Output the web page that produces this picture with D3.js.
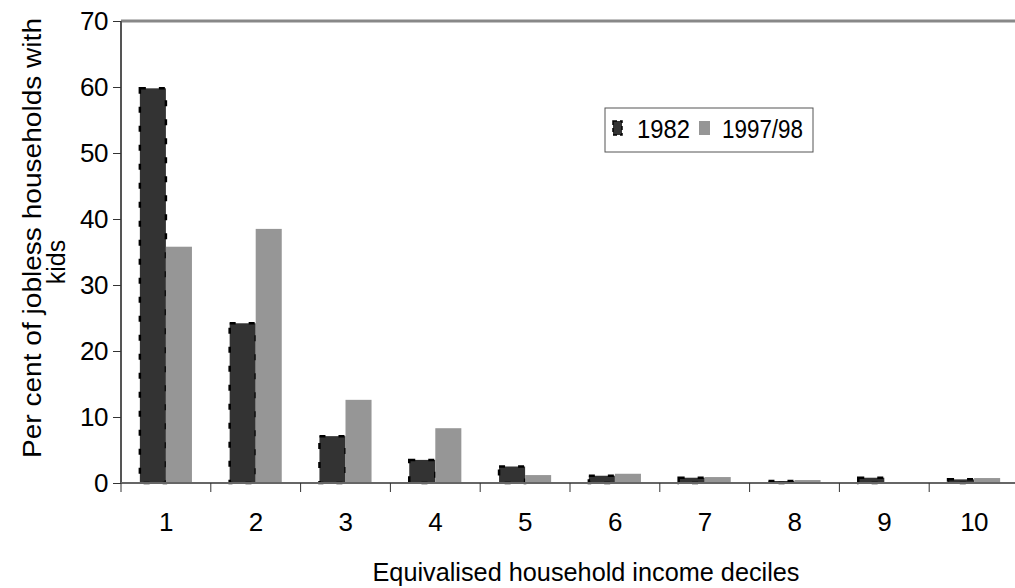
<!DOCTYPE html>
<html>
<head>
<meta charset="utf-8">
<script src="https://cdn.jsdelivr.net/npm/d3@7"></script>
<style>
  html, body { margin: 0; padding: 0; background: #fff; }
  svg { display: block; }
  text { font-family: "Liberation Sans", Arial, sans-serif; fill: #000; }
</style>
</head>
<body>
<svg id="chart" width="1015" height="588"></svg>
<script>
// Share of jobless households with kids, by income decile
const deciles = ["1", "2", "3", "4", "5", "6", "7", "8", "9", "10"];
const seriesNames = ["1982", "1997/98"];
const values1982 = [59.8, 24.2, 7.1, 3.5, 2.5, 1.1, 0.8, 0.3, 0.8, 0.55];
const values1997 = [35.8, 38.5, 12.6, 8.3, 1.2, 1.4, 0.9, 0.45, 0.05, 0.75];
const yTicks = [0, 10, 20, 30, 40, 50, 60, 70];

const colors = { "1982": "#333333", "1997/98": "#969696" };

const svg = d3.select("#chart");
const W = 1015, H = 588;
const x0 = 121, x1 = 1019;
const yTop = 21, yBot = 483;
const FONT = 26;

const x = d3.scaleBand().domain(deciles).range([x0, x1])
  .paddingInner(0.42).paddingOuter(0.21);
const xs = d3.scaleBand().domain(seriesNames).range([0, x.bandwidth()]);
const y = d3.scaleLinear().domain([0, 70]).range([yBot, yTop]);

const rows = deciles.map((d, i) => ({ d, "1982": values1982[i], "1997/98": values1997[i] }));

// top border of the plot area
svg.append("line")
  .attr("x1", x0).attr("x2", W)
  .attr("y1", yTop).attr("y2", yTop)
  .attr("stroke", "#888").attr("stroke-width", 3);

// bars
const groups = svg.append("g").selectAll("g").data(rows).join("g")
  .attr("transform", r => `translate(${x(r.d)},0)`);

groups.selectAll("rect").data(r => seriesNames.map(s => ({ s, v: r[s] }))).join("rect")
  .attr("x", e => xs(e.s))
  .attr("width", xs.bandwidth())
  .attr("y", e => y(e.v))
  .attr("height", e => y(0) - y(e.v))
  .attr("fill", e => colors[e.s])
  .attr("stroke", e => e.s === "1982" ? "#000" : "none")
  .attr("stroke-width", 2.5)
  .attr("stroke-dasharray", "6,13");

// y axis
const yAxis = d3.axisLeft(y).tickValues(yTicks).tickSize(8).tickPadding(5);
const gy = svg.append("g").attr("transform", `translate(${x0},0)`).call(yAxis);
gy.select(".domain").attr("stroke", "#555").attr("stroke-width", 2)
  .attr("d", `M0,${yTop}V${yBot}`);
gy.selectAll(".tick line").attr("stroke", "#333").attr("stroke-width", 1);
gy.selectAll(".tick text")
  .style("font-size", FONT + "px")
  .style("font-family", "Liberation Sans, Arial, sans-serif")
  .style("letter-spacing", "-0.5px")
  .attr("fill", "#000");

// x axis: tick marks sit between the deciles
const gx = svg.append("g").attr("transform", `translate(0,${yBot})`);
gx.append("line").attr("x1", x0).attr("x2", W).attr("y1", 0).attr("y2", 0)
  .attr("stroke", "#666").attr("stroke-width", 2);
gx.selectAll("line.tk").data(d3.range(deciles.length + 1)).join("line")
  .attr("class", "tk")
  .attr("x1", i => x0 + i * x.step())
  .attr("x2", i => x0 + i * x.step())
  .attr("y1", 0).attr("y2", 9)
  .attr("stroke", "#333").attr("stroke-width", 1);
gx.selectAll("text").data(deciles).join("text")
  .attr("x", d => x(d) + x.bandwidth() / 2)
  .attr("y", 48)
  .attr("text-anchor", "middle")
  .style("font-size", FONT + "px")
  .style("letter-spacing", "-0.5px")
  .text(d => d);

// axis titles
svg.append("text")
  .attr("x", 586)
  .attr("y", 581)
  .attr("text-anchor", "middle")
  .attr("textLength", 427)
  .attr("lengthAdjust", "spacingAndGlyphs")
  .style("font-size", FONT + "px")
  .text("Equivalised household income deciles");

// rotated y title, two lines
const yTitle = svg.append("g").attr("transform", "rotate(-90)");
yTitle.append("text")
  .attr("x", -238).attr("y", 41)
  .attr("text-anchor", "middle")
  .attr("textLength", 440)
  .attr("lengthAdjust", "spacingAndGlyphs")
  .style("font-size", "25px")
  .text("Per cent of jobless households with");
yTitle.append("text")
  .attr("x", -262).attr("y", 65)
  .attr("text-anchor", "middle")
  .style("font-size", "25px")
  .text("kids");

// legend
const lg = svg.append("g").attr("transform", "translate(605,108)");
lg.append("rect").attr("width", 208).attr("height", 44)
  .attr("fill", "#fff").attr("stroke", "#555").attr("stroke-width", 1);
const items = [
  { s: "1982", sx: 8, sw: 9, tx: 32, tl: 53 },
  { s: "1997/98", sx: 94, sw: 11, tx: 117, tl: 81 }
];
items.forEach(it => {
  lg.append("rect").attr("x", it.sx).attr("y", 13).attr("width", it.sw).attr("height", 14)
    .attr("fill", colors[it.s])
    .attr("stroke", it.s === "1982" ? "#000" : "none")
    .attr("stroke-width", 1.5).attr("stroke-dasharray", "4,3");
  lg.append("text").attr("x", it.tx).attr("y", 30)
    .attr("textLength", it.tl)
    .attr("lengthAdjust", "spacingAndGlyphs")
    .style("font-size", FONT + "px").text(it.s);
});
</script>
</body>
</html>
